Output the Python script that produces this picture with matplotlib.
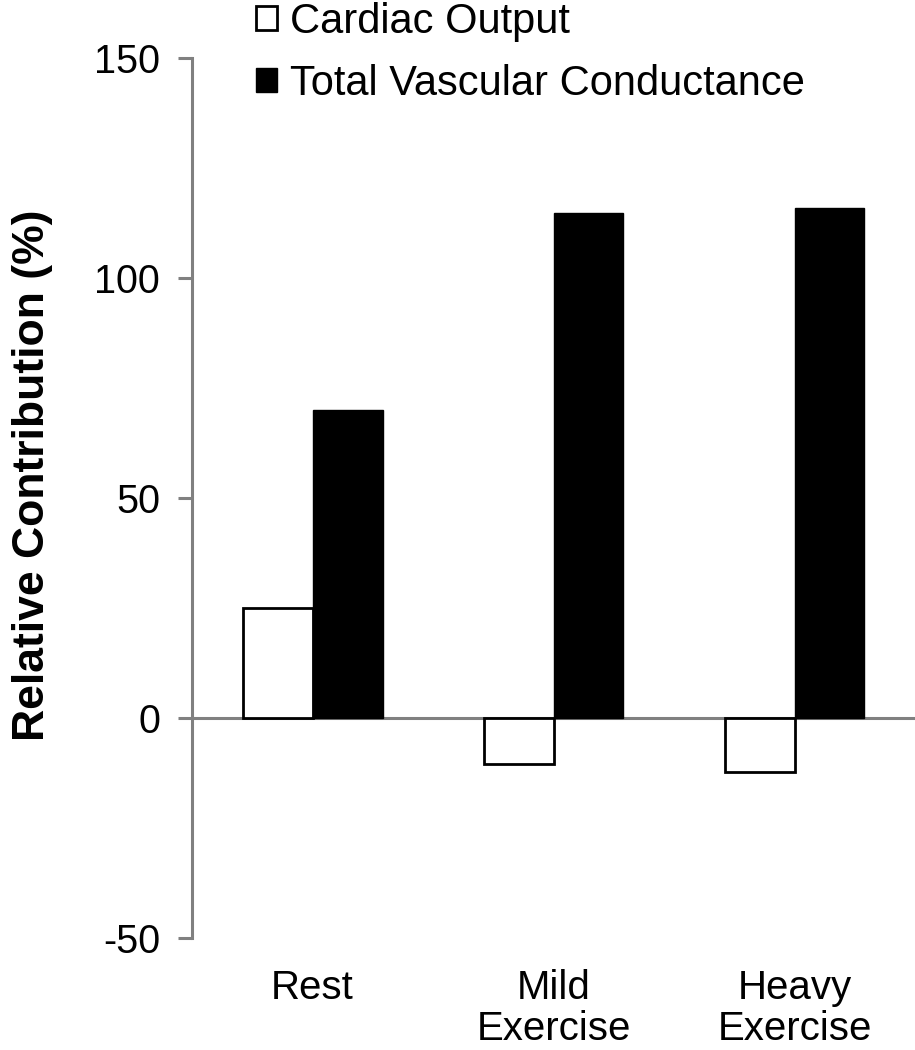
import numpy as np
import matplotlib.pyplot as plt
from matplotlib.patches import Patch

plt.rcParams['font.family'] = ['Liberation Sans', 'DejaVu Sans']
plt.rcParams['axes.unicode_minus'] = False

categories = ["Rest", "Mild\nExercise", "Heavy\nExercise"]
cardiac_output = [25.0, -10.5, -12.3]
vascular_cond = [70.0, 114.8, 116.0]
series_names = ["Cardiac Output", "Total Vascular Conductance"]

grey = "#808080"
fs = 29

fig = plt.figure(figsize=(9.15, 10.5), dpi=100)
ax = fig.add_axes([0.21, 0.1067, 0.79, 0.838])

x = np.arange(len(categories)) + 0.5
w = 0.29
ax.bar(x - w/2, cardiac_output, w, color="white", edgecolor="black", linewidth=2)
ax.bar(x + w/2, vascular_cond, w, color="black", edgecolor="black", linewidth=1)

ax.axhline(0, color=grey, linewidth=2.2, zorder=0)

ax.set_xlim(0, 3)
ax.set_ylim(-50, 150)
ax.set_yticks([-50, 0, 50, 100, 150])
ax.set_xticks(x)
ax.set_xticklabels(categories, fontsize=fs, linespacing=1.12)
ax.tick_params(axis='x', length=0, pad=22)
ax.tick_params(axis='y', length=10, width=2.2, color=grey, labelsize=fs - 0.5, pad=13)

for s in ["top", "right", "bottom"]:
    ax.spines[s].set_visible(False)
ax.spines["left"].set_color(grey)
ax.spines["left"].set_linewidth(2.2)

ax.set_ylabel("Relative Contribution (%)", fontsize=32, fontweight="bold")
ax.yaxis.set_label_coords(-0.192, 0.526)

handles = [Patch(facecolor="white", edgecolor="black", linewidth=2),
           Patch(facecolor="black", edgecolor="black")]
fig.legend(handles, series_names, loc="upper left", bbox_to_anchor=(0.262, 1.014),
           frameon=False, fontsize=30, handlelength=0.5, handleheight=0.5,
           handletextpad=0.3, labelspacing=0.52, borderaxespad=0)

fig.savefig("out.png", dpi=100)
